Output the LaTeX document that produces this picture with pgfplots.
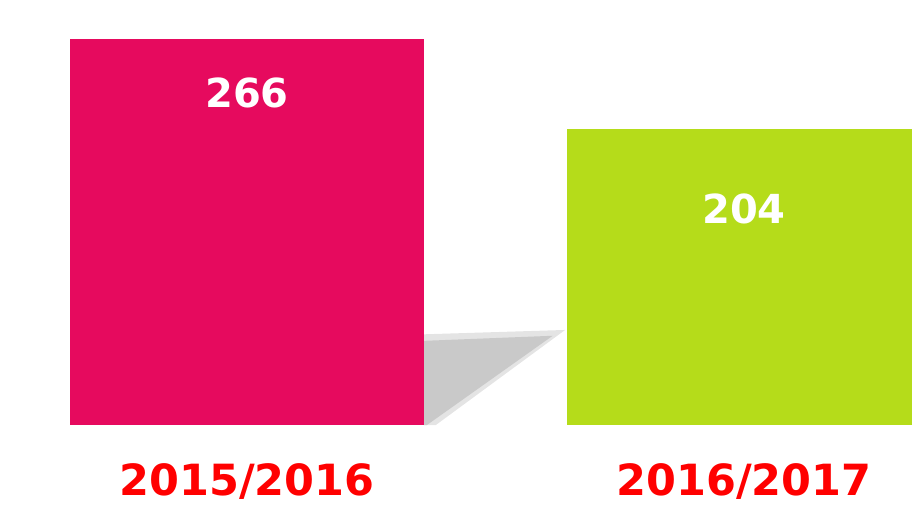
\documentclass[border=0pt]{standalone}
\usepackage{pgfplots}
\pgfplotsset{compat=1.18}
\usepackage{fontspec}
\setmainfont{DejaVu Sans}
\definecolor{barpink}{HTML}{E60A5E}
\definecolor{bargreen}{HTML}{B5DC1A}
\definecolor{shadowgray}{HTML}{C9C9C9}
\definecolor{labelred}{HTML}{FF0000}
\begin{document}
\begin{tikzpicture}
\begin{axis}[
  scale only axis,
  width=912pt, height=425pt,
  xmin=-0.497, xmax=1.338,
  ymin=0, ymax=292.9,
  axis line style={draw=none},
  xtick=\empty, ytick=\empty,
  ybar, bar width=0.712, bar shift=0pt,
  clip mode=individual,
]
\fill[shadowgray!50] (axis cs:0.356,62.5) -- (axis cs:0.640,65.5) -- (axis cs:0.380,0) -- (axis cs:0.356,0) -- cycle;
\fill[shadowgray] (axis cs:0.356,58) -- (axis cs:0.615,61.5) -- (axis cs:0.362,0) -- (axis cs:0.356,0) -- cycle;
\addplot[fill=barpink, draw=none] coordinates {(0,266)};
\addplot[fill=bargreen, draw=none] coordinates {(1,204)};
\node[white, font=\fontsize{40}{40}\selectfont\bfseries] at (axis cs:0,228.8) {266};
\node[white, font=\fontsize{40}{40}\selectfont\bfseries] at (axis cs:1,148.9) {204};
\node[labelred, anchor=base, inner sep=0pt, font=\fontsize{43}{43}\selectfont\bfseries] at ([yshift=-70pt]axis cs:0,0) {2015/2016};
\node[labelred, anchor=base, inner sep=0pt, font=\fontsize{43}{43}\selectfont\bfseries] at ([yshift=-70pt]axis cs:1,0) {2016/2017};
\end{axis}
\pgfresetboundingbox
\path[use as bounding box] (0,-79pt) rectangle (912pt,425pt);
\end{tikzpicture}
\end{document}
